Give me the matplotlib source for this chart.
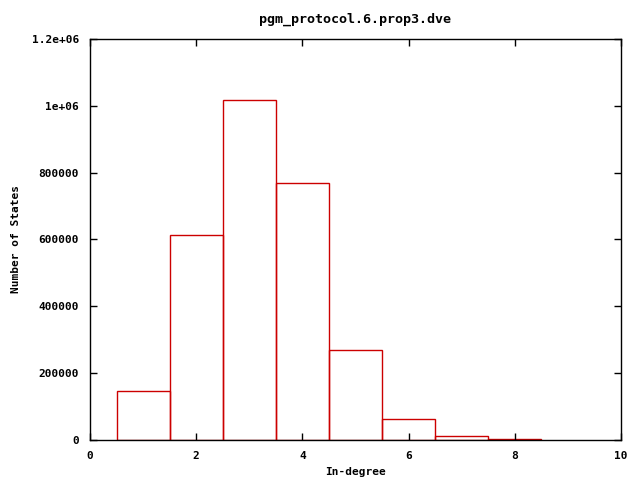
import matplotlib
matplotlib.use("Agg")
import matplotlib.pyplot as plt

# in-degree histogram values
degree = [1, 2, 3, 4, 5, 6, 7, 8]
states = [146600, 613000, 1016000, 768000, 269000, 62500, 12000, 2500]

xticks = [0, 2, 4, 6, 8, 10]
yticks = [0, 200000, 400000, 600000, 800000, 1000000, 1200000]
ylabels = ["0", "200000", "400000", "600000", "800000", "1e+06", "1.2e+06"]

plt.rcParams['font.family'] = 'DejaVu Sans Mono'
plt.rcParams['font.weight'] = 'bold'
plt.rcParams['font.size'] = 8

fig = plt.figure(figsize=(6.4, 4.8), dpi=100)
ax = fig.add_axes([90 / 640, 1 - 440 / 480, 531 / 640, 401 / 480])

ax.bar(degree, states, width=1.0, fill=False, edgecolor='#cc0000', linewidth=1.0)

ax.set_xlim(0, 10)
ax.set_ylim(0, 1200000)
ax.set_xticks(xticks)
ax.set_xticklabels([str(t) for t in xticks])
ax.set_yticks(yticks)
ax.set_yticklabels(ylabels)
ax.tick_params(direction='in', top=True, right=True, length=5, width=1, pad=8)

ax.set_xlabel('In-degree', fontweight='bold')
ax.set_ylabel('Number of States', fontweight='bold', labelpad=8)
ax.set_title('pgm_protocol.6.prop3.dve', fontweight='bold', pad=12)

for s in ax.spines.values():
    s.set_linewidth(1)

fig.savefig('out.png', dpi=100)
